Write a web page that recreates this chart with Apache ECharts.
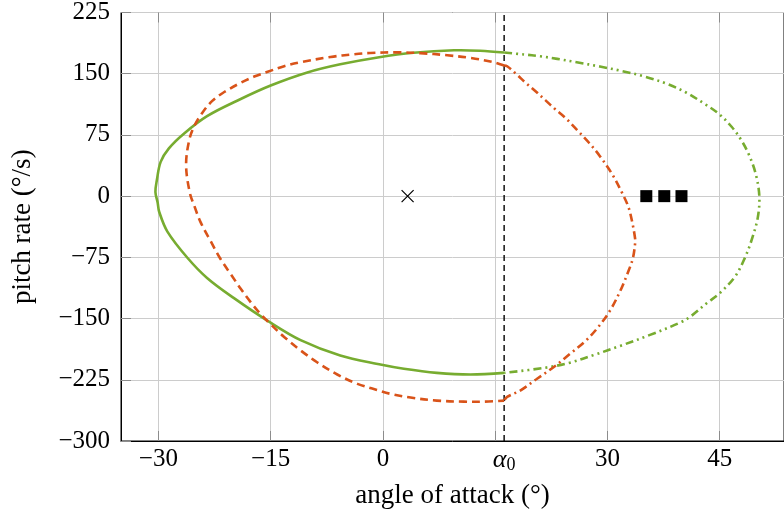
<!DOCTYPE html>
<html>
<head>
<meta charset="utf-8">
<script src="https://cdn.jsdelivr.net/npm/echarts@6/dist/echarts.min.js"></script>
<style>
  html, body { margin: 0; padding: 0; background: #fff; }
  #chart { width: 784px; height: 519px; }
</style>
</head>
<body>
<div id="chart"></div>
<script>
const alpha0 = 16.2

// x ticks / labels (alpha0 gets a label, the 15 tick does not)
const xTicks = [-30, -15, 0, 15, 30, 45]
const xLabels = [-30, -15, 0, alpha0, 30, 45]

// green loop, solid part (left of alpha0)
const greenSolid = [
  [16.2, 176], [13.0, 178.2], [9.5, 178.7], [4.1, 175.6], [-0.5, 170.2], [-5.7, 161.5],
  [-10.1, 151.5], [-15.0, 135.5], [-19.0, 119], [-23.5, 98], [-26.6, 76.5],
  [-28.6, 58.5], [-29.7, 42], [-30.2, 20], [-30.4, 5], [-30.1, -8], [-29.9, -19.1],
  [-28.8, -43.4], [-26.1, -75.8], [-23.5, -100.2], [-19.9, -125], [-15.4, -152.8],
  [-11.0, -176.5], [-5.7, -195.3], [-0.5, -206], [2.8, -211.5], [7.2, -216.5],
  [11.7, -218.5], [16.2, -216.5]
]
// green loop, dash-dot-dot part (right of alpha0)
const greenDash = [
  [16.2, 176], [18.8, 173.6], [21.0, 171.4], [23.3, 168.2], [25.9, 164], [29, 158.8],
  [32, 153.2], [35, 146.5], [38, 137.5], [40.5, 127], [43, 113], [45, 100], [46.6, 85],
  [47.8, 70], [48.9, 51], [49.8, 28], [50.3, 0.4], [50.1, -26], [49.3, -53],
  [48.4, -75], [47.1, -98], [45, -119], [43.3, -131], [41.1, -147.5], [39.7, -155],
  [35.7, -170], [31.7, -183.5], [28.4, -194], [25.0, -204], [21.5, -210.5], [16.2, -216.5]
]
// orange loop, dashed part (left of alpha0)
const orangeDash = [
  [16.2, 160], [14.8, 164.1], [11.7, 169.3], [8.6, 172.6], [5.0, 175.2], [1.9, 176.2],
  [-1.7, 175.4], [-3.9, 173.8], [-7.0, 170.5], [-11.0, 164.1], [-13.2, 159.2],
  [-15.4, 152.3], [-17.2, 146.5], [-19.0, 138.9], [-21.2, 127.6], [-22.8, 116.7],
  [-24.1, 102.5], [-25.2, 86], [-25.9, 68], [-26.3, 37.7], [-25.8, 4], [-25.2, -12],
  [-24.4, -31.2], [-23.0, -55.5], [-21.7, -77], [-20.3, -96], [-19.0, -113.5],
  [-17.7, -129.5], [-16.4, -144], [-15.0, -157], [-13.2, -172.5], [-11.0, -189],
  [-8.8, -203.5], [-6.1, -218.5], [-3.4, -230], [-0.8, -237.5], [1.0, -242.2],
  [3.7, -246.8], [7.2, -250.5], [10.8, -251.8], [13.5, -251.8], [16.2, -250.5]
]
// orange loop, dash-dot part (right of alpha0)
const orangeDashDot = [
  [16.2, 160], [16.6, 159.2], [17.9, 149], [19.0, 139.5], [20.4, 128.6], [21.7, 117.6],
  [23.0, 106.7], [24.4, 95.8], [26.0, 80.6], [27.6, 64.8], [29.0, 49], [30.6, 27.5],
  [31.9, 5.2], [32.8, -13.1], [33.3, -31.2], [33.7, -51.9], [33.7, -58.2], [33.4, -76.2],
  [32.7, -94.5], [31.7, -116.4], [30.4, -139.5], [28.8, -160.1], [27.1, -177.2],
  [25.0, -193.3], [22.8, -209.6], [20.6, -223.7], [18.4, -237.9], [16.6, -246.0], [16.2, -250.5]
]
const alphaLine = [[alpha0, -300], [alpha0, 225]]
const crossPoint = [[3.3, 0]]
const squarePoints = [[35.2, 0], [37.6, 0], [39.9, 0]]

const green = '#77AC30'
const orange = '#D95319'
const font = 'Liberation Serif'

function num(v) {
  return v < 0 ? '\u2212' + Math.abs(v) : String(v)
}

// smooth curve through the points, placed with the axes (api.coord)
function curve(points, color, dash) {
  return {
    type: 'custom', data: points, z: 3, silent: true,
    renderItem: (params, api) => {
      if (params.dataIndex !== 0) return
      return {
        type: 'polyline',
        shape: { points: points.map(p => api.coord(p)), smooth: 0.35 },
        style: { stroke: color, lineWidth: 2.6, fill: 'none', lineDash: dash || null }
      }
    }
  }
}

const tickStyle = { inside: true, length: 10, lineStyle: { color: '#8c8c8c', width: 1 } }
const gridLine = { show: true, lineStyle: { color: '#cccccc', width: 1 } }

const chart = echarts.init(document.getElementById('chart'))
chart.setOption({
  animation: false,
  grid: { left: 121, right: 0, top: 9, bottom: 78,
    show: true, borderColor: '#000', borderWidth: 1, backgroundColor: 'transparent' },
  xAxis: [{
    type: 'value', min: -35, max: 53.6,
    name: 'angle of attack (°)', nameLocation: 'middle', nameGap: 41,
    nameTextStyle: { fontFamily: font, fontSize: 27, color: '#000' },
    axisLine: { show: true, onZero: false, lineStyle: { color: '#000', width: 1 } },
    axisTick: Object.assign({ customValues: xTicks }, tickStyle),
    splitLine: gridLine,
    axisLabel: {
      customValues: xLabels, margin: 6, color: '#000', fontFamily: font, fontSize: 25,
      formatter: v => (Math.abs(v - alpha0) < 1e-6 ? '{a|α}{s|0}' : num(v)),
      rich: {
        a: { fontFamily: font, fontStyle: 'italic', fontSize: 26, color: '#000', verticalAlign: 'top' },
        s: { fontFamily: font, fontSize: 18, color: '#000', verticalAlign: 'top', padding: [9, 0, 0, 0] }
      }
    }
  }, {
    type: 'value', position: 'top', min: -35, max: 53.6,
    axisLine: { show: false, onZero: false },
    axisTick: Object.assign({ customValues: xTicks }, tickStyle),
    axisLabel: { show: false }, splitLine: { show: false }
  }],
  yAxis: [{
    type: 'value', min: -300, max: 225, interval: 75,
    name: 'pitch rate (°/s)', nameLocation: 'middle', nameGap: 85,
    nameTextStyle: { fontFamily: font, fontSize: 27, color: '#000' },
    axisLine: { show: true, onZero: false, lineStyle: { color: '#000', width: 1 } },
    axisTick: tickStyle,
    splitLine: gridLine,
    axisLabel: { margin: 11, color: '#000', fontFamily: font, fontSize: 25, formatter: num }
  }],
  series: [
    {
      type: 'line', data: alphaLine, showSymbol: false, z: 2, silent: true,
      lineStyle: { color: '#000', width: 1.4, type: [6, 4] }
    },
    curve(greenSolid, green),
    curve(greenDash, green, [8, 4, 2, 4, 2, 4]),
    curve(orangeDash, orange, [8, 5]),
    curve(orangeDashDot, orange, [8, 4, 2, 4]),
    {
      type: 'scatter', data: crossPoint, symbol: 'path://M0,0L10,10M10,0L0,10', symbolSize: 12, z: 4,
      itemStyle: { color: 'none', borderColor: '#000', borderWidth: 1.2, opacity: 1 }
    },
    {
      type: 'scatter', data: squarePoints, symbol: 'rect', symbolSize: 12, z: 4,
      itemStyle: { color: '#000', opacity: 1 }
    }
  ]
})
</script>
</body>
</html>
